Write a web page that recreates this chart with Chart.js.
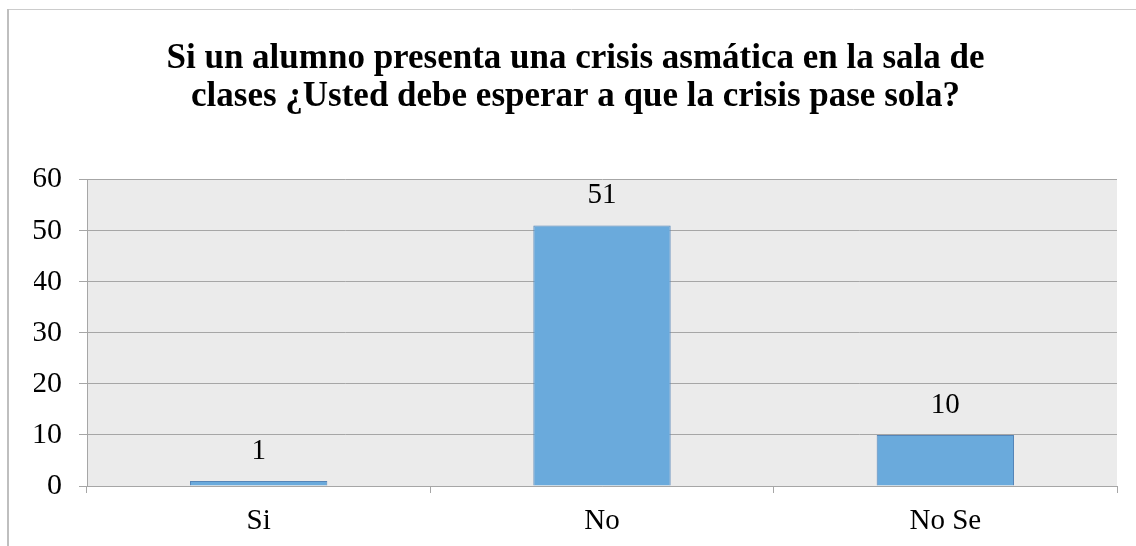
<!DOCTYPE html>
<html>
<head>
<meta charset="utf-8">
<script src="https://cdn.jsdelivr.net/npm/chart.js@4.4.1/dist/chart.umd.min.js"></script>
<style>
  html, body { margin: 0; padding: 0; background: #fff; }
  #wrap { width: 1136px; height: 546px; }
</style>
</head>
<body>
<div id="wrap"><canvas id="chart" width="1136" height="546"></canvas></div>
<script>
  // data
  var categories = ['Si', 'No', 'No Se'];
  var answers = [1, 51, 10];
  var yTicks = [0, 10, 20, 30, 40, 50, 60];
  var titleLines = [
    'Si un alumno presenta una crisis asmática en la sala de',
    'clases ¿Usted debe esperar a que la crisis pase sola?'
  ];

  var serif = '"Liberation Serif", "Times New Roman", serif';
  var gridGrey = '#a6a6a6';

  // frame, plot background and value labels
  var decor = {
    id: 'decor',
    beforeDraw: function(chart) {
      var ctx = chart.ctx, a = chart.chartArea;
      ctx.save();
      ctx.fillStyle = '#fff';
      ctx.fillRect(0, 0, chart.width, chart.height);
      ctx.strokeStyle = '#cccccc';
      ctx.lineWidth = 1;
      ctx.beginPath();
      ctx.moveTo(7, 9.5); ctx.lineTo(chart.width, 9.5);
      ctx.stroke();
      ctx.strokeStyle = '#bfbfbf';
      ctx.lineWidth = 2;
      ctx.beginPath();
      ctx.moveTo(8, 9); ctx.lineTo(8, chart.height);
      ctx.stroke();
      ctx.fillStyle = '#ebebeb';
      ctx.fillRect(a.left, a.top, a.right - a.left, a.bottom - a.top);
      ctx.restore();
    },
    afterDatasetsDraw: function(chart) {
      var ctx = chart.ctx;
      var meta = chart.getDatasetMeta(0);
      ctx.save();
      ctx.font = '29px ' + serif;
      ctx.fillStyle = '#000';
      ctx.textAlign = 'center';
      ctx.textBaseline = 'middle';
      meta.data.forEach(function(bar, i) {
        ctx.fillText(String(answers[i]), bar.x, bar.y - 30);
      });
      ctx.restore();
    }
  };

  new Chart(document.getElementById('chart'), {
    type: 'bar',
    data: {
      labels: categories,
      datasets: [{
        data: answers,
        backgroundColor: '#6aaadc',
        borderColor: '#5585b8',
        borderWidth: 1,
        barPercentage: 0.4,
        categoryPercentage: 1.0
      }]
    },
    options: {
      responsive: false,
      animation: false,
      layout: { padding: { left: 34, right: 19, top: 0, bottom: 0 } },
      plugins: {
        legend: { display: false },
        tooltip: { enabled: false },
        title: {
          display: true,
          text: titleLines,
          color: '#000',
          font: { family: serif, size: 35, weight: 'bold', lineHeight: 1.08 },
          padding: { top: 40, bottom: 64 }
        }
      },
      scales: {
        x: {
          afterFit: function(scale) { scale.height = 60; },
          grid: {
            offset: true,
            drawOnChartArea: false,
            color: gridGrey,
            tickLength: 7
          },
          border: { color: gridGrey },
          ticks: {
            color: '#000',
            padding: 11,
            font: { family: serif, size: 29 }
          }
        },
        y: {
          min: 0,
          max: 60,
          afterFit: function(scale) { scale.width = 53; },
          afterBuildTicks: function(scale) {
            scale.ticks = yTicks.map(function(v) { return { value: v }; });
          },
          grid: { color: gridGrey, tickLength: 8 },
          border: { color: gridGrey },
          ticks: {
            color: '#000',
            padding: 17,
            font: { family: serif, size: 30 }
          }
        }
      }
    },
    plugins: [decor]
  });
</script>
</body>
</html>
